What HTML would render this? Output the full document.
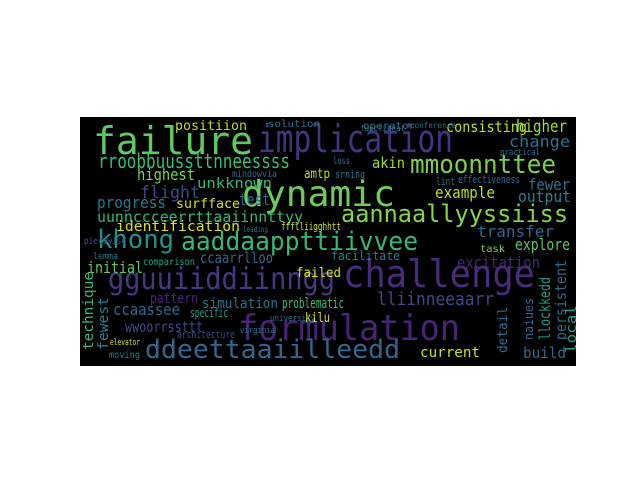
<!DOCTYPE html>
<html><head><meta charset="utf-8"><style>
html,body{margin:0;padding:0;background:#fff;}
svg{display:block;}
text{font-family:"DejaVu Sans Mono","Liberation Mono",monospace;}
</style></head><body>
<svg width="640" height="480">
<rect x="80" y="117" width="496" height="249" fill="#000"/>
<g id="words"></g>
</svg>
<script>
const words = ["failure","implication","dynamic","mmoonnttee","rroobbuussttnneessss","highest","aannaallyyssiiss","khong","aaddaappttiivvee","challenge","gguuiiddiinngg","formulation","ddeettaaiilleedd","lliinneeaarr","positiion","solution","operator","consisting","higher","change","amtp","akin","unkknown","flight","test","progress","surfface","example","output","fewer","uunnccceerrttaaiinnttyy","identification","transfer","ffflliigghhtt","explore","ccaarrlloo","initial","failed","excitation","facilitate","simulation","problematic","kilu","specific","ccaassee","wwoorrssttt","architecture","current","build","comparison","pattern","elevator","moving","task","lint","effectiveness","loss","srning","mindowvia","university","virginia","lemma","piecewise","conference","functional","practical","leading","technique","fewest","detail","persistent","local","llockkedd","naiues"];
const xs = [93,258,242,410,98,137,341,97,181,343,108,238,145,377,175,268,363,446,516,509,304,372,197,140,239,97,176,435,518,528,97,116,477,281,515,200,87,296,457,331,202,282,305,190,113,125,177,420,523,143,150,110,109,480,436,458,333,335,232,270,240,93,84,410,360,500,243,93,108,507,566,576,550,533];
const ys = [154,152,206,173,168,180,222,248,250,287,289,340,358,305,130,127,129,132,132,147,178,168,188,198,205,208,208,198,202,190,222,231,237,230,250,263,273,277,268,260,308,308,322,317,315,332,338,357,358,265,303,345,358,252,185,183,164,178,177,321,333,259,244,128,131,155,232,350,350,353,340,353,340,340];
const wds = [160,195,153,146,192,58,227,77,237,192,227,222,255,117,72,52,52,81,51,61,26,33,75,60,31,69,64,60,53,42,206,124,77,60,55,73,56,45,83,69,76,62,25,38,67,78,58,60,43,52,48,30,31,25,19,62,17,30,45,45,35,25,42,46,45,40,25,78,53,46,80,48,63,42];
const sizes = [38,38,36,26,20,16,24,26,26,38,30,36,26,18,13,10,10,15,17,16,13,15,14,17,16,16,13,16,16,16,15,14,16,11,16,15,16,13,16,12,14,14,13,12,16,15,11,14,15,10,14,9,10,10,11,11,10,11,10,9,9,9,10,8,8,9,8,14,14,13,15,14,15,12];
const colors = ["#5ec962","#46337e","#6ccd5a","#7ad151","#3bbb75","#7ad151","#86d549","#21918c","#35b779","#472c7a","#443983","#482475","#31688e","#3e4989","#b5de2b","#2c728e","#2a788e","#bddf26","#a0da39","#2c728e","#b5de2b","#a0da39","#35b779","#3e4989","#31688e","#2a788e","#d0e11c","#bddf26","#26828e","#2c728e","#35b779","#d8e219","#31688e","#d0e11c","#5ec962","#31688e","#5ec962","#d8e219","#482878","#287c8e","#2c728e","#3bbb75","#d8e219","#1f9e89","#31688e","#3e4989","#3e4989","#c8e020","#31688e","#22a884","#482475","#d8e219","#2a788e","#7ad151","#2c728e","#31688e","#2c728e","#2c728e","#31688e","#2c728e","#2c728e","#2a788e","#3e4989","#2c728e","#2c728e","#2c728e","#2c728e","#35b779","#26828e","#2c728e","#31688e","#1f9e89","#1f9e89","#31688e"];
const rots = [0,0,0,0,0,0,0,0,0,0,0,0,0,0,0,0,0,0,0,0,0,0,0,0,0,0,0,0,0,0,0,0,0,0,0,0,0,0,0,0,0,0,0,0,0,0,0,0,0,0,0,0,0,0,0,0,0,0,0,0,0,0,0,0,0,0,0,-90,-90,-90,-90,-90,-90,-90];
const NS = "http://www.w3.org/2000/svg";
const g = document.getElementById("words");
words.forEach((w, i) => {
  const t = document.createElementNS(NS, "text");
  t.setAttribute("x", xs[i]);
  t.setAttribute("y", ys[i]);
  t.setAttribute("font-size", sizes[i]);
  t.setAttribute("fill", colors[i]);
  t.setAttribute("textLength", wds[i]);
  t.setAttribute("lengthAdjust", "spacingAndGlyphs");
  if (rots[i]) t.setAttribute("transform", "rotate(" + rots[i] + " " + xs[i] + " " + ys[i] + ")");
  t.textContent = w;
  
  
  g.appendChild(t);
});
</script>
</body></html>
